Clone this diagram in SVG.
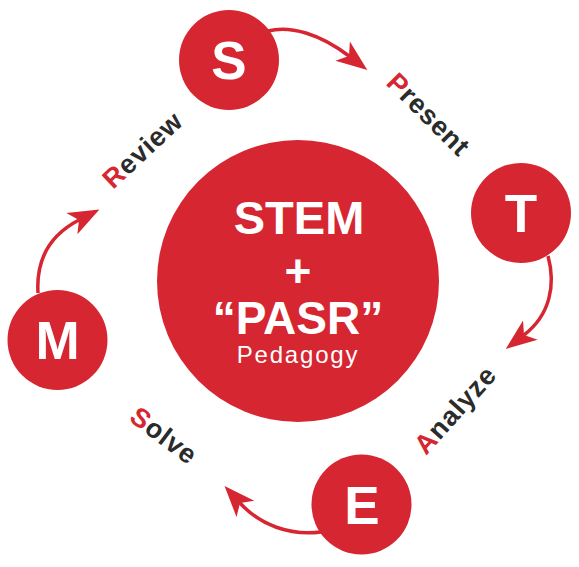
<svg xmlns="http://www.w3.org/2000/svg" width="579" height="567" viewBox="0 0 579 567">
<style>
.red{fill:#D62631}
.letter{fill:#fff;font-family:"Liberation Sans",Arial,sans-serif;font-weight:bold;font-size:53px;text-anchor:middle}
.lbl{fill:#2b2b2b;font-family:"Liberation Sans",Arial,sans-serif;font-weight:bold;font-size:27px;letter-spacing:0.8px}
.lbl .first{fill:#D62631}
.conn{fill:none;stroke:#D62631;stroke-width:3.5}
.center{fill:#fff;font-family:"Liberation Sans",Arial,sans-serif;text-anchor:middle}
</style>
<defs>
<marker id="ah" markerUnits="userSpaceOnUse" markerWidth="40" markerHeight="30" refX="8" refY="12" orient="auto" overflow="visible">
<path d="M31,12 L0,0 L8,12 L0,24 Z" fill="#D62631"/>
</marker>
</defs>
<g id="connectors">
<path class="conn" d="M268,31 C290,25 320,34 349,56" marker-end="url(#ah)"/>
<path class="conn" d="M548,256 C556,285 550,315 524,335" marker-end="url(#ah)"/>
<path class="conn" d="M321,532 C290,536 260,525 240,503" marker-end="url(#ah)"/>
<path class="conn" d="M38,293 C36,260 50,235 79,220" marker-end="url(#ah)"/>
</g>
<g id="center">
<circle class="red" cx="298" cy="281" r="141"/>
<text class="center" x="299" y="234" font-size="47" font-weight="bold">STEM</text>
<text class="center" x="298" y="287" font-size="46" font-weight="bold">+</text>
<text class="center" x="298" y="334" font-size="46" font-weight="bold">“PASR”</text>
<text class="center" x="298" y="363" font-size="24" letter-spacing="1.8">Pedagogy</text>
</g>
<g id="node-S"><circle class="red" cx="229" cy="60" r="50"/><text class="letter" x="229" y="79">S</text></g>
<g id="node-T"><circle class="red" cx="521" cy="213" r="50"/><text class="letter" x="521" y="232">T</text></g>
<g id="node-E"><circle class="red" cx="361.5" cy="504.5" r="50"/><text class="letter" x="362" y="523.5">E</text></g>
<g id="node-M"><circle class="red" cx="57.5" cy="340" r="50"/><text class="letter" x="57.5" y="359">M</text></g>
<g id="label-present"><text class="lbl" transform="translate(385,84) rotate(45)"><tspan class="first">P</tspan>resent</text></g>
<g id="label-analyze"><text class="lbl" transform="translate(426,456) rotate(-48)"><tspan class="first">A</tspan>nalyze</text></g>
<g id="label-solve"><text class="lbl" transform="translate(128,420) rotate(37)"><tspan class="first">S</tspan>olve</text></g>
<g id="label-review"><text class="lbl" transform="translate(113,190) rotate(-43)"><tspan class="first">R</tspan>eview</text></g>
</svg>
